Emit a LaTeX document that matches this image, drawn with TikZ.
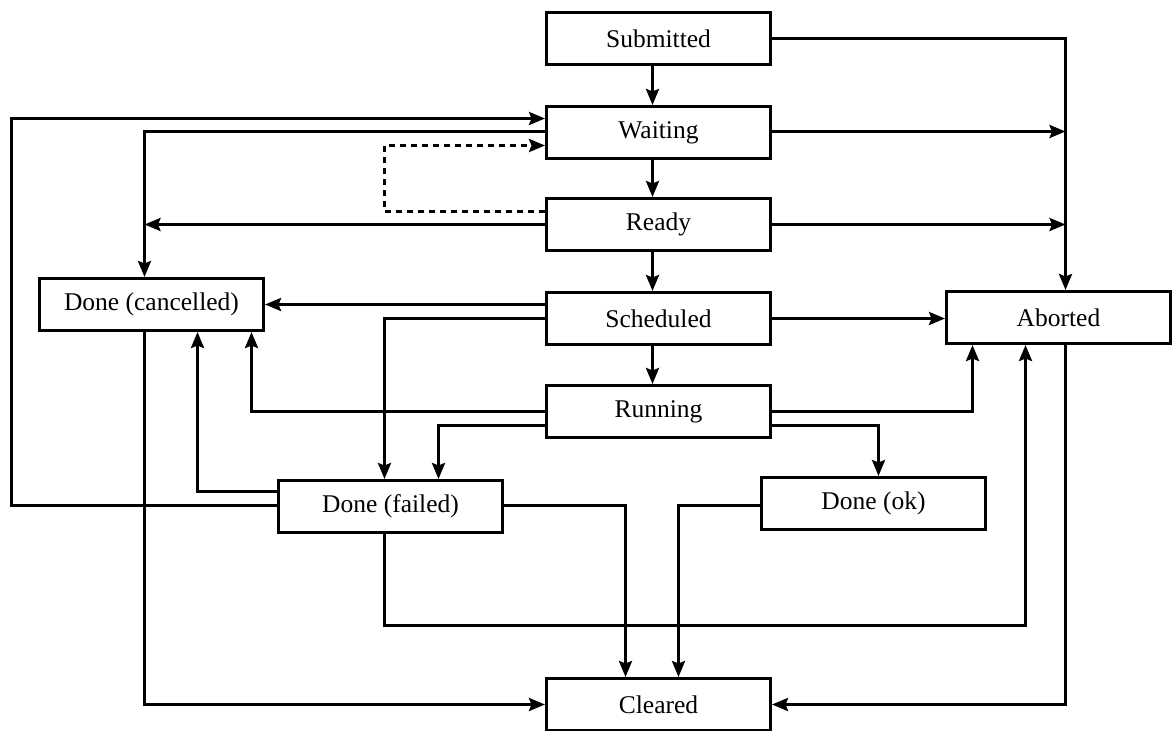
\documentclass[tikz,border=0pt]{standalone}
\usepackage{fontspec}
\setmainfont{Liberation Serif}
\usetikzlibrary{arrows.meta}
\begin{document}
\begin{tikzpicture}[x=1pt,y=-1pt,
  state/.style={draw,line width=3pt,minimum width=224pt,minimum height=52pt,
    inner sep=0pt,font=\fontsize{25.5}{30}\selectfont},
  arr/.style={line width=3pt,-{Stealth[length=16pt,width=13pt,inset=2.5pt]}},
  dashlink/.style={arr,dash pattern=on 6pt off 5pt}]
\useasboundingbox (0,0) rectangle (1173,731);

% states
\node[state] (sub)    at (658.5,38.5)  {Submitted};
\node[state] (wait)   at (658.5,132.5) {Waiting};
\node[state] (ready)  at (658.5,224.5) {Ready};
\node[state] (sched)  at (658.5,318.5) {Scheduled};
\node[state] (run)    at (658.5,411.5) {Running};
\node[state] (cancel) at (151.5,304.5) {Done (cancelled)};
\node[state] (abort)  at (1058.5,317.5){Aborted};
\node[state] (failed) at (390.5,506.5) {Done (failed)};
\node[state] (ok)     at (873.5,503.5) {Done (ok)};
\node[state] (clear)  at (658.5,704.5) {Cleared};

% routing columns
\coordinate (colM) at (652.5,0);
\coordinate (colL) at (11.5,0);
\coordinate (colC) at (144.5,0);
\coordinate (colD) at (384.5,0);
\coordinate (colA) at (1065.5,0);
\coordinate (colR) at (972.5,0);
\coordinate (colB) at (1025.5,0);

% main chain
\draw[arr] (sub.south -| colM) -- (wait.north -| colM);
\draw[arr] (wait.south -| colM) -- (ready.north -| colM);
\draw[arr] (ready.south -| colM) -- (sched.north -| colM);
\draw[arr] (sched.south -| colM) -- (run.north -| colM);

% towards Aborted
\draw[arr] (sub.east) -| (abort.north -| colA);
\draw[arr] (wait.east |- 0,131.5) -- (colA |- 0,131.5);
\draw[arr] (ready.east) -- (ready.east -| colA);
\draw[arr] (sched.east) -- (abort.west |- sched.east);
\draw[arr] (run.east) -| (abort.south -| colR);

% Running to Done (ok) / Done (failed) / Done (cancelled)
\draw[arr] (run.east |- 0,425.5) -| (ok.north -| 878.5,0);
\draw[arr] (run.west |- 0,425.5) -| (failed.north -| 438.5,0);
\draw[arr] (run.west) -| (cancel.south -| 251.5,0);

% Scheduled to Done (cancelled) / Done (failed)
\draw[arr] (sched.west |- cancel.east) -- (cancel.east);
\draw[arr] (sched.west) -| (failed.north -| colD);

% Waiting / Ready to Done (cancelled)
\draw[arr] (wait.west |- 0,131.5) -| (cancel.north -| colC);
\draw[arr] (ready.west) -- (ready.west -| colC);

% Ready back to Waiting
\draw[dashlink] (ready.west |- 0,211.5) -| (colD |- 0,145.5) -- (wait.west |- 0,145.5);

% Done (failed) retries and cancellation
\draw[arr] (failed.west |- 0,505.5) -| (colL |- 0,118.5) -- (wait.west |- 0,118.5);
\draw[arr] (failed.west |- 0,491.5) -| (cancel.south -| 197.5,0);
\draw[arr] (failed.south -| colD) |- (colB |- 0,625.5) -- (abort.south -| colB);

% towards Cleared
\draw[arr] (failed.east |- 0,505.5) -| (clear.north -| 625.5,0);
\draw[arr] (ok.west |- 0,505.5) -| (clear.north -| 678.5,0);
\draw[arr] (cancel.south -| colC) |- (clear.west);
\draw[arr] (abort.south -| colA) |- (clear.east);
\end{tikzpicture}
\end{document}
